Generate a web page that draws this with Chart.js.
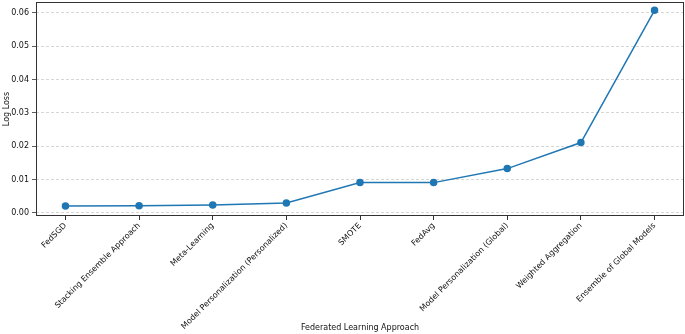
<!DOCTYPE html>
<html>
<head>
<meta charset="utf-8">
<script src="https://cdn.jsdelivr.net/npm/chart.js@4.4.1/dist/chart.umd.min.js"></script>
<style>
  html, body { margin: 0; padding: 0; background: #fff; }
  #wrap { width: 685px; height: 334px; }
</style>
</head>
<body>
<div id="wrap"><canvas id="loss_line"></canvas></div>
<script>
// approaches on the x axis
var approaches = ["FedSGD", "Stacking Ensemble Approach", "Meta-Learning",
  "Model Personalization (Personalized)", "SMOTE", "FedAvg",
  "Model Personalization (Global)", "Weighted Aggregation", "Ensemble of Global Models"];
// log loss per approach
var logLoss = [0.0021, 0.0022, 0.0024, 0.0030, 0.0091, 0.0091, 0.0133, 0.0211, 0.0607];
var yTicks = [0.00, 0.01, 0.02, 0.03, 0.04, 0.05, 0.06];

var points = logLoss.map(function(v, i) { return {x: i, y: v}; });

//box around the plot like matplotlib spines
var frame = {
  id: 'frame',
  afterDraw: function(chart) {
    var a = chart.chartArea, c = chart.ctx;
    c.save();
    c.strokeStyle = '#333';
    c.lineWidth = 1;
    c.strokeRect(Math.round(a.left) + 0.5, Math.round(a.top) + 0.5,
      Math.round(a.right - a.left) - 1, Math.round(a.bottom - a.top) - 1);
    c.restore();
  }
};

Chart.defaults.font.family = "'DejaVu Sans', sans-serif";
Chart.defaults.font.size = 8;
Chart.defaults.color = '#111';

var ctx = document.getElementById("loss_line");
var lossChart = new Chart(ctx, {
  type: 'line',
  data: {
    datasets: [{
      data: points,
      borderColor: '#1f77b4',
      backgroundColor: '#1f77b4',
      borderWidth: 1.5,
      pointRadius: 3,
      pointHoverRadius: 3,
      fill: false,
      tension: 0
    }]
  },
  options: {
    animation: false,
    responsive: true,
    maintainAspectRatio: false,
    layout: { autoPadding: false, padding: { top: 2, right: 1, left: 0, bottom: 0 } },
    plugins: { legend: { display: false }, tooltip: { enabled: false } },
    scales: {
      x: {
        type: 'linear',
        min: -0.4,
        max: 8.4,
        afterBuildTicks: function(s) { s.ticks = approaches.map(function(_, i) { return {value: i}; }); },
        afterFit: function(s) { s.height = 118; s.paddingLeft = 0; s.paddingRight = 0; },
        ticks: {
          autoSkip: false,
          minRotation: 45,
          maxRotation: 45,
          padding: 1,
          callback: function(v) { return approaches[v]; }
        },
        grid: { drawOnChartArea: false, drawTicks: true, tickLength: 4, tickColor: '#333' },
        border: { display: false },
        title: { display: true, text: 'Federated Learning Approach', font: { size: 8 }, padding: { top: 0, bottom: 1 } }
      },
      y: {
        min: -0.0009,
        max: 0.0632,
        afterBuildTicks: function(s) { s.ticks = yTicks.map(function(v) { return {value: v}; }); },
        afterFit: function(s) { s.width = 36; s.paddingTop = 0; s.paddingBottom = 0; },
        ticks: {
          padding: 3,
          callback: function(v) { return v.toFixed(2); }
        },
        grid: { color: '#cccccc', lineWidth: 0.8, drawTicks: true, tickLength: 4, tickColor: '#333' },
        border: { display: false, dash: [3, 2] },
        title: { display: true, text: 'Log Loss', font: { size: 8 }, padding: { top: 2, bottom: 0 } }
      }
    }
  },
  plugins: [frame]
});
</script>
</body>
</html>
